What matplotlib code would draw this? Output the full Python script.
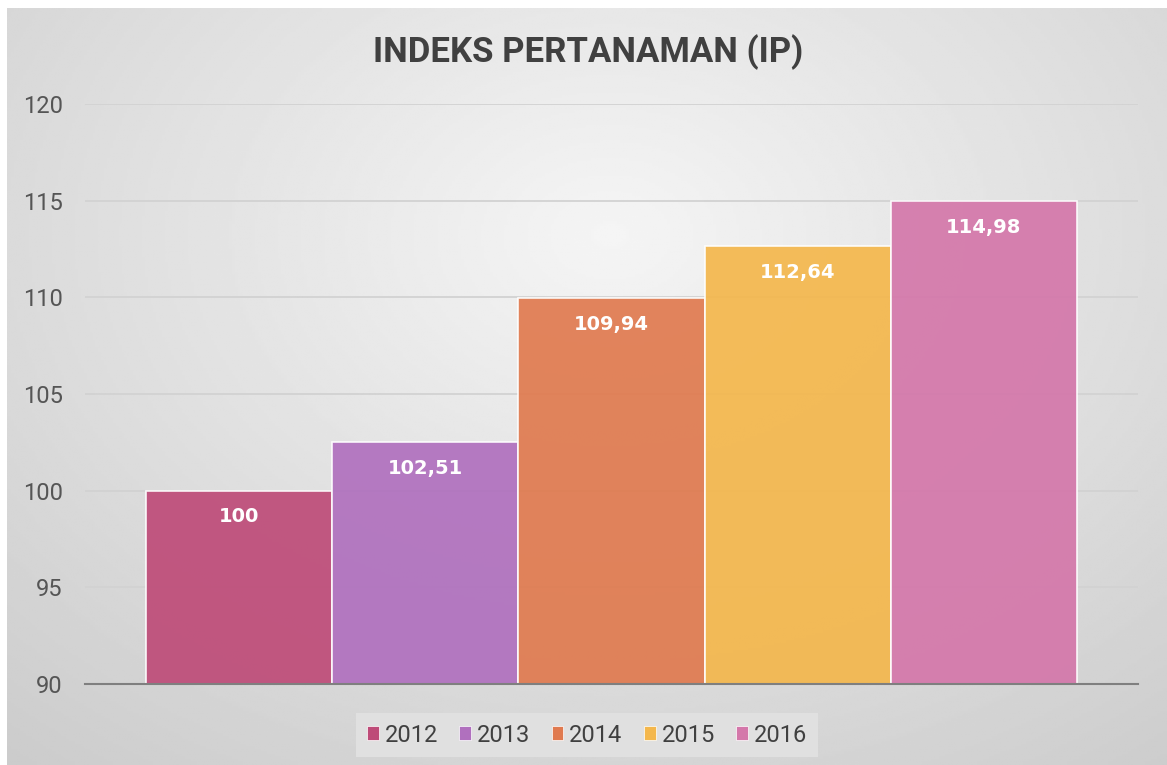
import numpy as np
import matplotlib.pyplot as plt
from matplotlib.patches import Patch

# data
years = ['2012', '2013', '2014', '2015', '2016']
ip_values = [100, 102.51, 109.94, 112.64, 114.98]
labels = ['100', '102,51', '109,94', '112,64', '114,98']
colors = ['#BE4B78', '#B070BE', '#E07A4F', '#F4B74C', '#D477AA']
yticks = [90, 95, 100, 105, 110, 115, 120]

W, H = 1167, 765
fig = plt.figure(figsize=(W / 100, H / 100), dpi=100)
fig.patch.set_facecolor('white')
plt.rcParams['font.family'] = ['Roboto', 'DejaVu Sans']

# background panel with radial gradient
bg = fig.add_axes([7 / W, 0, 1 - 7 / W, 1 - 8 / H], zorder=-10)
gx, gy = np.meshgrid(np.linspace(0, 1, 400), np.linspace(0, 1, 300))
r = np.sqrt(((gx - 0.52) / 0.8) ** 2 + ((gy - 0.3) / 0.9) ** 2)
shade = 0.96 - 0.16 * np.clip(r, 0, 1.2)
bg.imshow(shade, cmap='gray', vmin=0, vmax=1, aspect='auto', extent=[0, 1, 1, 0])
bg.set_axis_off()

ax = fig.add_axes([85 / W, 1 - 684 / H, (1138 - 85) / W, (684 - 104) / H])
ax.patch.set_alpha(0)

x = np.arange(len(years))
for i in range(len(years)):
    ax.bar(x[i], ip_values[i] - 90, bottom=90, width=1.0, color=colors[i],
           edgecolor='white', linewidth=1.2, alpha=0.92, zorder=3)
    ax.annotate(labels[i], (x[i], ip_values[i]), xytext=(0, -26),
                textcoords='offset pixels', ha='center', va='center',
                color='white', fontsize=14, fontweight='bold', zorder=5,
                family='DejaVu Sans')

pad = 61 / 186
ax.set_xlim(-0.5 - pad, len(years) - 0.5 + pad)
ax.set_ylim(90, 120)
ax.set_yticks(yticks)
ax.set_xticks([])
ax.tick_params(axis='y', length=0, pad=16, labelsize=17, labelcolor='#555555')
ax.yaxis.grid(True, color='#d2d2d2', linewidth=1.3, zorder=0)
for s in ['top', 'right', 'left']:
    ax.spines[s].set_visible(False)
ax.spines['bottom'].set_color('#7f7f7f')
ax.spines['bottom'].set_linewidth(1.5)
ax.spines['bottom'].set_zorder(4)

fig.text(0.504, 1 - 52 / H, 'INDEKS PERTANAMAN (IP)', ha='center', va='center',
         fontsize=25, fontweight='bold', color='#404040')

handles = [Patch(facecolor=c, edgecolor='white', linewidth=0.5) for c in colors]
leg = fig.legend(handles, years, loc='center', ncol=5,
                 bbox_to_anchor=(587 / W, 1 - 735 / H), fontsize=17,
                 handlelength=0.5, handleheight=0.5, handletextpad=0.25,
                 columnspacing=0.9, frameon=True, fancybox=False,
                 borderpad=0.45)
leg.get_frame().set_facecolor('#e2e2e2')
leg.get_frame().set_edgecolor('none')
leg.get_frame().set_alpha(0.9)
for t in leg.get_texts():
    t.set_color('#404040')

fig.savefig('out.png', dpi=100)
